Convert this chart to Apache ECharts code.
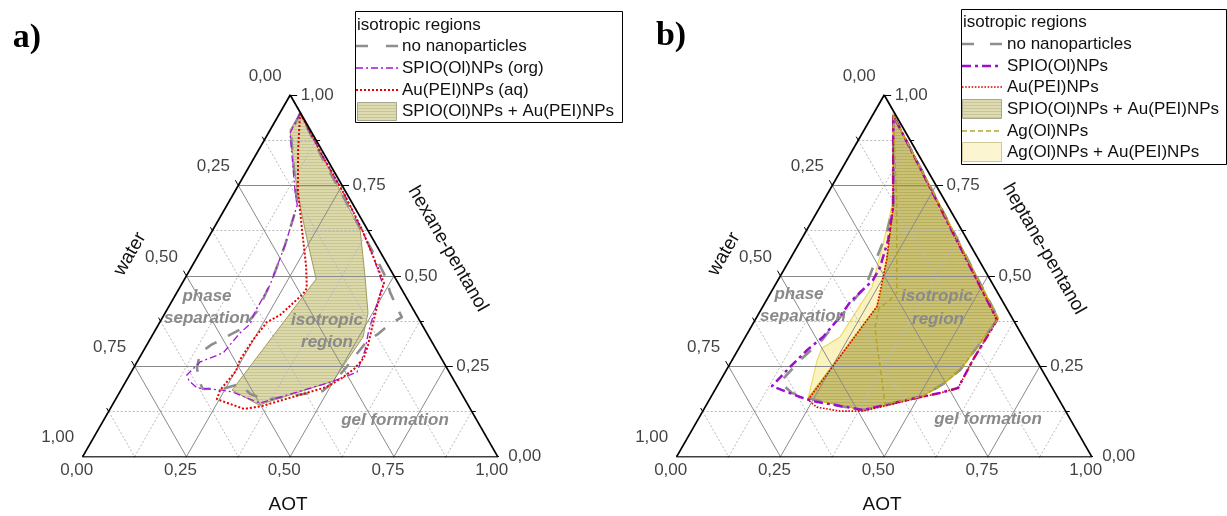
<!DOCTYPE html>
<html>
<head>
<meta charset="utf-8">
<script src="https://cdn.jsdelivr.net/npm/echarts@6/dist/echarts.min.js"></script>
<style>
  html, body { margin: 0; padding: 0; background: #fff; }
  #chart { width: 1227px; height: 516px; }
</style>
</head>
<body>
<div id="chart"></div>
<script>
// Ternary compositions, each point is [AOT, water, oil phase] (fractions summing to 1).
const tickValues = [0, 0.25, 0.5, 0.75, 1];
const tickLabels = ['0,00', '0,25', '0,50', '0,75', '1,00'];
const majorGrid = [0.25, 0.5, 0.75];
const minorGrid = [0.125, 0.375, 0.625, 0.875];

// ---- panel a: water / AOT / hexane-pentanol ----
const aNoNP = [
  [0.049,0.001,0.950],[0.054,0.051,0.895],[0.145,0.118,0.737],[0.169,0.135,0.696],
  [0.195,0.220,0.585],[0.212,0.300,0.488],[0.220,0.375,0.405],[0.208,0.436,0.356],
  [0.173,0.502,0.325],[0.155,0.536,0.309],[0.139,0.574,0.287],[0.153,0.602,0.245],
  [0.176,0.615,0.209],[0.196,0.617,0.187],[0.250,0.560,0.190],[0.279,0.520,0.201],
  [0.316,0.510,0.174],[0.361,0.482,0.157],[0.460,0.364,0.176],[0.488,0.330,0.182],
  [0.502,0.286,0.212],[0.510,0.250,0.240],[0.515,0.218,0.267],[0.526,0.151,0.323],
  [0.542,0.119,0.339],[0.557,0.076,0.367],[0.576,0.038,0.386],[0.545,0.036,0.419],
  [0.513,0.032,0.455],[0.484,0.022,0.494],[0.443,0.019,0.538],[0.277,0.013,0.710],
  [0.164,0.010,0.826]
];
const aSpio = [
  [0.049,0.001,0.950],[0.052,0.053,0.895],[0.143,0.120,0.737],[0.169,0.135,0.696],
  [0.195,0.220,0.585],[0.214,0.311,0.475],[0.215,0.385,0.400],[0.220,0.413,0.367],
  [0.208,0.450,0.342],[0.195,0.518,0.287],[0.152,0.586,0.262],[0.138,0.636,0.226],
  [0.152,0.639,0.209],[0.181,0.629,0.190],[0.244,0.572,0.184],[0.271,0.550,0.179],
  [0.353,0.499,0.148],[0.493,0.301,0.206],[0.531,0.243,0.226],[0.544,0.222,0.234],
  [0.533,0.172,0.295],[0.517,0.141,0.342],[0.508,0.114,0.378],[0.497,0.078,0.425],
  [0.486,0.039,0.475],[0.427,0.024,0.549],[0.360,0.013,0.627],[0.272,0.007,0.721],
  [0.160,0.006,0.834]
];
const aAu = [
  [0.049,0.001,0.950],[0.095,0.057,0.848],[0.150,0.113,0.737],[0.227,0.166,0.607],
  [0.276,0.199,0.525],[0.307,0.227,0.466],[0.306,0.244,0.450],[0.280,0.328,0.392],
  [0.258,0.370,0.372],[0.249,0.428,0.323],[0.245,0.488,0.267],[0.251,0.512,0.237],
  [0.239,0.577,0.184],[0.244,0.597,0.159],[0.323,0.545,0.132],[0.362,0.498,0.140],
  [0.438,0.391,0.171],[0.492,0.315,0.193],[0.516,0.266,0.218],[0.533,0.224,0.243],
  [0.541,0.186,0.273],[0.533,0.158,0.309],[0.519,0.125,0.356],[0.498,0.074,0.428],
  [0.486,0.034,0.480],[0.427,0.024,0.549],[0.360,0.013,0.627],[0.272,0.007,0.721],
  [0.160,0.006,0.834]
];
const aSpioAu = [
  [0.049,0.001,0.950],[0.048,0.049,0.903],[0.149,0.116,0.735],[0.236,0.157,0.607],
  [0.317,0.192,0.491],[0.268,0.548,0.184],[0.353,0.504,0.143],[0.499,0.292,0.209],
  [0.502,0.253,0.245],[0.510,0.159,0.331],[0.489,0.114,0.397],[0.429,0.069,0.502],
  [0.355,0.018,0.627]
];

// ---- panel b: water / AOT / heptane-pentanol ----
const bNoNP = [
  [0.050,0.006,0.944],[0.176,0.133,0.691],[0.196,0.183,0.621],[0.208,0.248,0.544],
  [0.219,0.306,0.475],[0.205,0.389,0.406],[0.189,0.488,0.323],[0.164,0.569,0.267],
  [0.146,0.648,0.206],[0.190,0.634,0.176],[0.235,0.603,0.162],[0.323,0.537,0.140],
  [0.385,0.486,0.129],[0.507,0.327,0.166],[0.542,0.257,0.201],[0.563,0.197,0.240],
  [0.584,0.034,0.382]
];
const bSpio = [
  [0.050,0.006,0.944],[0.176,0.133,0.691],[0.210,0.191,0.599],[0.228,0.248,0.524],
  [0.229,0.283,0.488],[0.204,0.368,0.428],[0.200,0.414,0.386],[0.187,0.482,0.331],
  [0.167,0.538,0.295],[0.149,0.603,0.248],[0.132,0.673,0.195],[0.215,0.620,0.165],
  [0.249,0.597,0.154],[0.385,0.486,0.129],[0.507,0.327,0.166],[0.546,0.278,0.176],
  [0.583,0.227,0.190],[0.580,0.153,0.267],[0.583,0.039,0.378]
];
const bAu = [
  [0.050,0.006,0.944],[0.176,0.133,0.691],[0.234,0.222,0.544],[0.275,0.310,0.415],
  [0.238,0.605,0.157],[0.269,0.594,0.137],[0.330,0.544,0.126],[0.386,0.488,0.126],
  [0.509,0.326,0.165],[0.546,0.278,0.176],[0.583,0.227,0.190],[0.580,0.153,0.267],
  [0.583,0.039,0.378]
];
const bSpioAu = [
  [0.050,0.006,0.944],[0.584,0.034,0.382],[0.563,0.197,0.240],[0.542,0.257,0.201],
  [0.507,0.327,0.166],[0.385,0.486,0.129],[0.236,0.603,0.161],[0.275,0.310,0.415],
  [0.269,0.289,0.442],[0.234,0.222,0.544],[0.195,0.159,0.646],[0.176,0.133,0.691]
];
const bAg = [
  [0.050,0.006,0.944],[0.175,0.115,0.710],[0.304,0.243,0.453],[0.297,0.270,0.433],
  [0.282,0.307,0.411],[0.299,0.343,0.358],[0.328,0.363,0.309],[0.375,0.391,0.234],
  [0.429,0.425,0.146],[0.507,0.327,0.166],[0.542,0.257,0.201],[0.563,0.197,0.240],
  [0.584,0.034,0.382]
];
const bAgAu = [
  [0.167,0.123,0.710],[0.200,0.201,0.599],[0.236,0.295,0.469],[0.232,0.362,0.406],
  [0.228,0.441,0.331],[0.200,0.500,0.300],[0.205,0.528,0.267],[0.236,0.603,0.161],
  [0.385,0.486,0.129],[0.507,0.327,0.166],[0.542,0.257,0.201],[0.563,0.197,0.240],
  [0.584,0.034,0.382],[0.050,0.006,0.944]
];

// ---- layout ----
const PLOT_W = 415, PLOT_H = 361.7;
const PLOT_LEFT = [82.7, 676.7], PLOT_TOP = 95;
const FONT = '"Liberation Sans", Arial, sans-serif';

// ternary -> cartesian (x along AOT axis, y = oil fraction)
const toXY = p => [p[0] + p[2] / 2, p[2]];
const closed = pts => pts.concat([pts[0]]);

function stripes(base, line) {
  const c = document.createElement('canvas');
  c.width = 8; c.height = 3;
  const ctx = c.getContext('2d');
  ctx.fillStyle = base; ctx.fillRect(0, 0, 8, 3);
  ctx.fillStyle = line; ctx.fillRect(0, 0, 8, 1);
  return { image: c, repeat: 'repeat' };
}
const stripeA = stripes('#dcd9ab', '#c8c494');
const stripeB = stripes('#cbc172', '#b8ae60');
const stripeLegend = stripes('#dedbb0', '#c9c59a');

function frameSeries(g) {
  const base = { type: 'lines', coordinateSystem: 'cartesian2d', xAxisIndex: g, yAxisIndex: g,
                 silent: true, polyline: false, animation: false };
  const seg = (a, b) => ({ coords: [toXY(a), toXY(b)] });
  const gridLines = vals => vals.flatMap(v => [
    seg([0, 1 - v, v], [1 - v, 0, v]),   // constant oil
    seg([v, 1 - v, 0], [v, 0, 1 - v]),   // constant AOT
    seg([0, v, 1 - v], [1 - v, v, 0])    // constant water
  ]);
  const tick = (p, dir, len) => {
    const a = toXY(p);
    return { coords: [a, [a[0] + dir[0] * len / PLOT_W, a[1] - dir[1] * len / PLOT_H]] };
  };
  const dOil = [1, 0], dAot = [-0.5, 0.866], dWater = [-0.5, -0.866];
  const ticks = [];
  tickValues.forEach(v => {
    ticks.push(tick([1 - v, 0, v], dOil, 7));
    ticks.push(tick([v, 1 - v, 0], dAot, 6));
    ticks.push(tick([0, v, 1 - v], dWater, 6));
  });
  minorGrid.forEach(v => {
    ticks.push(tick([1 - v, 0, v], dOil, 4));
    ticks.push(tick([v, 1 - v, 0], dAot, 4));
    ticks.push(tick([0, v, 1 - v], dWater, 4));
  });
  const labels = [];
  tickValues.forEach((v, i) => {
    labels.push({ value: toXY([1 - v, 0, v]), label: { formatter: tickLabels[i], offset: [27, 0] } });
    labels.push({ value: toXY([v, 1 - v, 0]), label: { formatter: tickLabels[i], offset: [-6, 14] } });
    labels.push({ value: toXY([0, v, 1 - v]), label: { formatter: tickLabels[i], offset: [-25, -19] } });
  });
  return [
    { ...base, z: 2, data: gridLines(minorGrid), lineStyle: { color: '#b9b9b9', width: 1, type: [2, 2], opacity: 1 } },
    { ...base, z: 2, data: gridLines(majorGrid), lineStyle: { color: '#8a8a8a', width: 1, type: 'solid', opacity: 1 } },
    { ...base, z: 7, data: [seg([0,1,0],[1,0,0]), seg([1,0,0],[0,0,1]), seg([0,0,1],[0,1,0])],
      lineStyle: { color: '#000', width: 1.7, opacity: 1 } },
    { ...base, z: 7, data: ticks, lineStyle: { color: '#000', width: 1, opacity: 1 } },
    { type: 'scatter', xAxisIndex: g, yAxisIndex: g, silent: true, symbolSize: 0, z: 8, animation: false,
      data: labels,
      label: { show: true, position: 'inside', color: '#111', fontSize: 17, fontFamily: FONT } }
  ];
}

function region(g, pts, fill, stroke, lw, z) {
  const xy = pts.map(toXY);
  return {
    type: 'custom', xAxisIndex: g, yAxisIndex: g, silent: true, z, animation: false,
    data: xy,
    renderItem(params, api) {
      if (params.dataIndex !== 0) return null;
      return { type: 'polygon', shape: { points: xy.map(p => api.coord(p)) },
               style: { fill, stroke, lineWidth: lw } };
    }
  };
}

function curve(g, pts, color, width, dash, z) {
  return {
    type: 'line', xAxisIndex: g, yAxisIndex: g, silent: true, z, animation: false,
    data: closed(pts).map(toXY), symbol: 'none', showSymbol: false,
    lineStyle: { color, width, type: dash, cap: 'butt', join: 'round' }
  };
}

const series = [
  ...frameSeries(0),
  region(0, aSpioAu, stripeA, '#a39d5a', 1, 1),
  curve(0, aNoNP, '#8e8e8e', 2.6, [13, 13], 3),
  curve(0, aSpio, '#a414dc', 1.3, [7, 3, 2, 3], 4),
  curve(0, aAu, '#e60000', 2, [2, 2], 5),

  ...frameSeries(1),
  region(1, bAgAu, '#fbf3bf', '#e9dc66', 1.2, 1),
  region(1, bSpioAu, stripeB, '#c9b829', 1.5, 1),
  curve(1, bNoNP, '#8e8e8e', 2.6, [13, 13], 3),
  curve(1, bSpio, '#9a0fd0', 2.5, [9, 4, 3, 4], 4),
  curve(1, bAu, '#e00000', 1.6, [1.6, 1.6], 5),
  curve(1, bAg, '#b5a52a', 1.5, [5, 3], 6)
];

// ---- texts and legends ----
function txt(x, y, text, o = {}) {
  const align = o.align || 'center';
  return {
    type: 'text', x, y, rotation: o.rot || 0, z: 100, silent: true,
    style: {
      text, x: 0, y: 0, fill: o.color || '#111',
      fontSize: o.size || 17, fontFamily: o.family || FONT,
      fontWeight: o.weight || 'normal', fontStyle: o.style || 'normal',
      align, textAlign: align, verticalAlign: 'middle', textVerticalAlign: 'middle'
    }
  };
}
const note = (x, y, t) => txt(x, y, t, { color: '#8a8a8a', weight: 'bold', style: 'italic' });
const title = (x, y, t, rot) => txt(x, y, t, { rot: rot || 0, size: 19 });
function legLine(x1, x2, y, color, width, dash) {
  return { type: 'line', z: 101, silent: true, shape: { x1, y1: y, x2, y2: y },
           style: { stroke: color, lineWidth: width, lineDash: dash } };
}
function legPatch(x, y, w, h, fill, stroke) {
  return { type: 'rect', z: 101, silent: true, shape: { x, y, width: w, height: h },
           style: { fill, stroke, lineWidth: 1 } };
}
const legendBox = (x, y, w, h) => ({ type: 'rect', z: 99, silent: true, shape: { x, y, width: w, height: h },
                                     style: { fill: '#fff', stroke: '#000', lineWidth: 1 } });
const SERIF = '"Liberation Serif", "Times New Roman", serif';

const graphics = [
  txt(27, 38, 'a)', { family: SERIF, size: 34, weight: 'bold', color: '#000' }),
  txt(671, 36, 'b)', { family: SERIF, size: 34, weight: 'bold', color: '#000' }),

  title(130, 254, 'water', Math.PI / 3),
  title(448, 249, 'hexane-pentanol', -Math.PI / 3),
  title(288, 505, 'AOT'),
  note(207, 296, 'phase'), note(207, 318, 'separation'),
  note(327, 320, 'isotropic'), note(327, 342, 'region'),
  note(395, 420, 'gel formation'),

  title(724, 254, 'water', Math.PI / 3),
  title(1044, 249, 'heptane-pentanol', -Math.PI / 3),
  title(882, 505, 'AOT'),
  note(799, 294, 'phase'), note(803, 316, 'separation'),
  note(937, 296, 'isotropic'), note(938, 319, 'region'),
  note(988, 419, 'gel formation'),

  // legend a
  legendBox(355.5, 11.5, 267, 111),
  txt(357, 25, 'isotropic regions', { align: 'left' }),
  legLine(356, 398, 46, '#8e8e8e', 2.6, [12, 18]),
  txt(402, 46, 'no nanoparticles', { align: 'left' }),
  legLine(356, 398, 68, '#a414dc', 1.3, [7, 3, 2, 3]),
  txt(402, 68, 'SPIO(Ol)NPs (org)', { align: 'left' }),
  legLine(356, 398, 90, '#e60000', 2, [2, 2]),
  txt(402, 90, 'Au(PEI)NPs (aq)', { align: 'left' }),
  legPatch(357.5, 102.5, 39, 18, stripeLegend, '#a8a690'),
  txt(402, 111, 'SPIO(Ol)NPs + Au(PEI)NPs', { align: 'left' }),

  // legend b
  legendBox(961.5, 9.5, 265, 155),
  txt(963, 22, 'isotropic regions', { align: 'left' }),
  legLine(962, 1002, 44, '#8e8e8e', 2.6, [12, 16]),
  txt(1007, 44, 'no nanoparticles', { align: 'left' }),
  legLine(962, 1002, 66, '#9a0fd0', 2.5, [9, 4, 3, 4]),
  txt(1007, 66, 'SPIO(Ol)NPs', { align: 'left' }),
  legLine(962, 1002, 87, '#e00000', 1.6, [1.6, 1.6]),
  txt(1007, 87, 'Au(PEI)NPs', { align: 'left' }),
  legPatch(962.5, 99.5, 39, 19, stripeLegend, '#a8a690'),
  txt(1007, 109, 'SPIO(Ol)NPs + Au(PEI)NPs', { align: 'left' }),
  legLine(962, 1002, 131, '#b5a52a', 1.5, [5, 3]),
  txt(1007, 131, 'Ag(Ol)NPs', { align: 'left' }),
  legPatch(962.5, 142.5, 39, 19, '#fbf5d2', '#cfc79a'),
  txt(1007, 152, 'Ag(Ol)NPs + Au(PEI)NPs', { align: 'left' })
];

const chart = echarts.init(document.getElementById('chart'));
chart.setOption({
  animation: false,
  backgroundColor: '#fff',
  grid: PLOT_LEFT.map(l => ({ left: l, top: PLOT_TOP, width: PLOT_W, height: PLOT_H })),
  xAxis: [0, 1].map(i => ({ gridIndex: i, type: 'value', min: 0, max: 1, show: false })),
  yAxis: [0, 1].map(i => ({ gridIndex: i, type: 'value', min: 0, max: 1, show: false })),
  series,
  graphic: graphics
});
</script>
</body>
</html>
